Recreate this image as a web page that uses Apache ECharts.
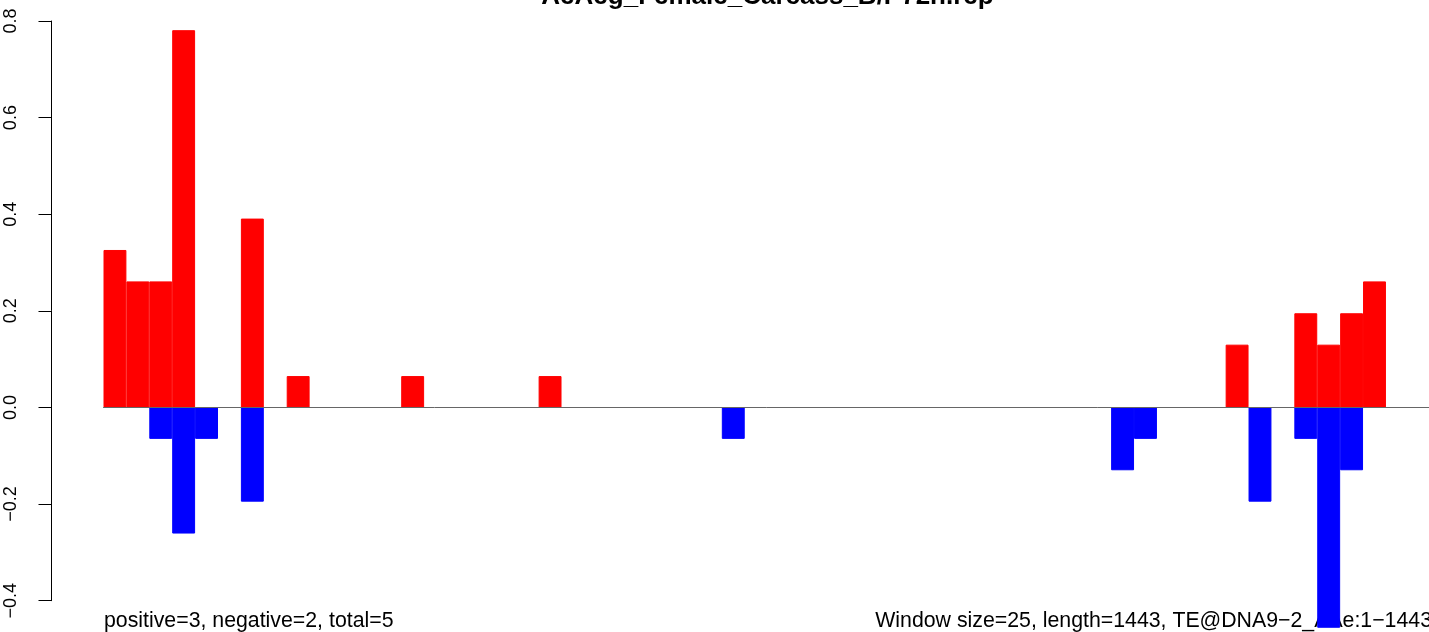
<!DOCTYPE html>
<html>
<head>
<meta charset="utf-8">
<script src="https://cdn.jsdelivr.net/npm/echarts@6/dist/echarts.min.js"></script>
<style>
  html, body { margin: 0; padding: 0; background: #fff; }
  #chart { width: 1429px; height: 632px; }
</style>
</head>
<body>
<div id="chart"></div>
<script>
// ---- data ----
const titleText = "AeAeg_Female_Carcass_B/P72h.rep";
const leftNote = "positive=3, negative=2, total=5";
const rightNote = "Window size=25, length=1443, TE@DNA9\u22122_AAe:1\u22121443";
const windowSize = 25;
const binCount = 58;
// window indices (bin centres on a value axis)
const bins = [];
for (let i = 0; i < binCount; i++) bins.push(i);
// positive (red) values per window, by window index
const positiveBins = {0: 0.326, 1: 0.261, 2: 0.261, 3: 0.781, 6: 0.391, 8: 0.065, 13: 0.065, 19: 0.065,
                      49: 0.130, 52: 0.195, 53: 0.130, 54: 0.195, 55: 0.261};
// negative (blue) values per window, by window index
const negativeBins = {2: -0.065, 3: -0.261, 4: -0.065, 6: -0.195, 27: -0.065, 44: -0.130, 45: -0.065,
                      50: -0.195, 52: -0.065, 53: -0.456, 54: -0.130};
const yTicks = {min: -0.4, max: 0.8, interval: 0.2};
// visible part of the window range (the right end of the picture is cropped)
const xRange = {min: 0, max: 57.88};

const positiveValues = bins.map(i => [i + 0.5, positiveBins[i] !== undefined ? positiveBins[i] : '-']);
const negativeValues = bins.map(i => [i + 0.5, negativeBins[i] !== undefined ? negativeBins[i] : '-']);

const FONT = "'Liberation Sans', Arial, Helvetica, sans-serif";
const chart = echarts.init(document.getElementById('chart'));
chart.setOption({
  animation: false,
  backgroundColor: '#ffffff',
  grid: { left: 103.5, right: 0, top: 21, bottom: 31.3, containLabel: false },
  xAxis: {
    type: 'value',
    min: xRange.min, max: xRange.max,
    axisLine: { show: true, onZero: true, lineStyle: { color: '#666666', width: 1 } },
    axisTick: { show: false },
    axisLabel: { show: false },
    splitLine: { show: false },
    z: 3
  },
  yAxis: {
    type: 'value',
    min: yTicks.min, max: yTicks.max, interval: yTicks.interval,
    offset: 52,
    axisLine: { show: true, onZero: false, lineStyle: { color: '#000', width: 1 } },
    axisTick: { show: true, length: 13, lineStyle: { color: '#000', width: 1 } },
    axisLabel: {
      show: true, rotate: 90, margin: 31,
      fontFamily: FONT, fontSize: 18, color: '#000',
      formatter: v => v.toFixed(1).replace('-', '\u2212')
    },
    splitLine: { show: false }
  },
  series: [
    { name: 'positive', type: 'bar', data: positiveValues, barWidth: '100%', barGap: '-100%',
      itemStyle: { color: '#ff0000', borderColor: '#ff0000', borderWidth: 1 }, clip: false, z: 2 },
    { name: 'negative', type: 'bar', data: negativeValues, barWidth: '100%', barGap: '-100%',
      itemStyle: { color: '#0000ff', borderColor: '#0000ff', borderWidth: 1 }, clip: false, z: 2 }
  ],
  graphic: [
    { type: 'text', x: 767.5, y: -3, z: 0, zlevel: 0,
      style: { text: titleText, fontFamily: FONT, fontSize: 26, fontWeight: 'bold', fill: '#000',
               align: 'center', verticalAlign: 'middle' } },
    { type: 'text', x: 104, y: 621, z: 0, zlevel: 0,
      style: { text: leftNote, fontFamily: FONT, fontSize: 21.3, fill: '#000',
               align: 'left', verticalAlign: 'middle' } },
    { type: 'text', x: 1432, y: 621, z: 0, zlevel: 0,
      style: { text: rightNote, fontFamily: FONT, fontSize: 21.3, fill: '#000',
               align: 'right', verticalAlign: 'middle' } }
  ]
});
</script>
</body>
</html>
